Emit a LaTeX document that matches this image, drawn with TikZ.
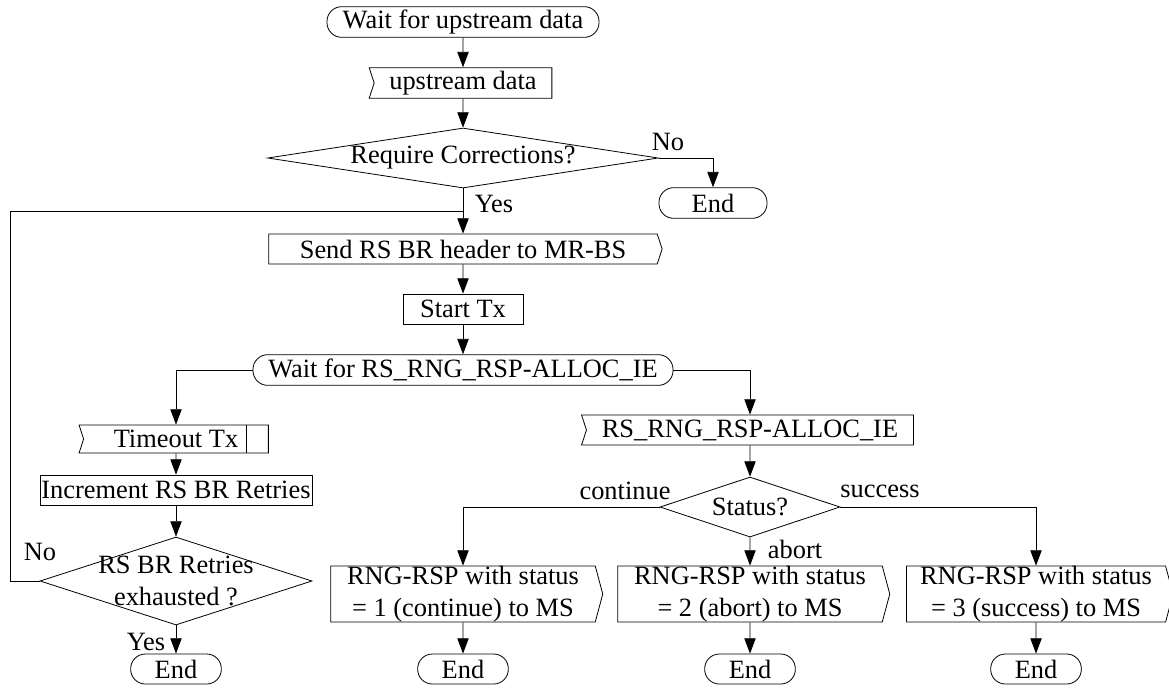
\documentclass[tikz,border=0pt]{standalone}
\usepackage{fontspec}
\setmainfont{Liberation Serif}
\usetikzlibrary{arrows.meta,shapes.geometric,shapes.symbols}

\tikzset{
  term/.style={draw, rectangle, rounded corners=11pt, inner sep=0pt, minimum height=23pt},
  proc/.style={draw, rectangle, inner sep=0pt, minimum height=22.5pt},
  recv/.style={draw, signal, signal from=west, signal to=nowhere, signal pointer angle=144, inner sep=0pt, minimum height=23pt},
  sendsig/.style={draw, signal, signal to=east, signal pointer angle=150, inner sep=0pt, align=center},
  decision/.style={draw, diamond, inner sep=0pt},
  flow/.style={-{Triangle[length=11.5pt,width=8.5pt]}},
}

\begin{document}
\begin{tikzpicture}[x=0.75pt,y=0.75pt,yscale=-1,xscale=1, font=\fontsize{19.8}{24}\selectfont, line width=0.6pt]
\useasboundingbox (0,0) rectangle (1169,687);

%Shape: Terminal [id:waitup]
\node [term, minimum width=204pt] (waitup) at (463,22) {Wait for upstream data};
%Shape: Input [id:updata]
\node [recv, minimum width=137pt] (updata) at (463,83) {upstream data};
%Shape: Decision [id:corr]
\node [decision, minimum width=293pt, minimum height=45pt, label={center:Require Corrections?}] (corr) at (463,158) {};
%Shape: Terminal [id:endno]
\node [term, minimum width=81pt] (endno) at (713,203) {End};
%Shape: Output [id:sendbr]
\node [sendsig, signal pointer angle=144, minimum width=295pt, minimum height=22.5pt] (sendbr) at (463,249) {Send RS BR header to MR-BS};
%Shape: Rectangle [id:starttx]
\node [proc, minimum width=90pt] (starttx) at (463,309) {Start Tx};
%Shape: Terminal [id:waitrsp]
\node [term, minimum width=315pt] (waitrsp) at (463,370) {Wait for RS\_RNG\_RSP-ALLOC\_IE};

% left branch
%Shape: Input [id:timeout]
\node [recv, minimum width=142pt, minimum height=21pt] (timeout) at (176,439) {Timeout Tx\hspace{14pt}};
\draw ([xshift=-16.5pt]timeout.north east) -- ([xshift=-16.5pt]timeout.south east);
%Shape: Rectangle [id:incr]
\node [proc, minimum width=204pt] (incr) at (176,490) {Increment RS BR Retries};
%Shape: Decision [id:retry]
\node [decision, minimum width=204pt, minimum height=66pt, label={[align=center]center:{RS BR Retries\\exhausted ?}}] (retry) at (176,581) {};
%Shape: Terminal [id:endyes]
\node [term, minimum width=68pt, minimum height=22.5pt] (endyes) at (176,669) {End};
\coordinate (loopc) at (10,211);
\coordinate (joinc) at (463,211);

% right branch
%Shape: Input [id:rsprx]
\node [recv, minimum width=249pt, minimum height=22.5pt] (rsprx) at (750,430) {RS\_RNG\_RSP-ALLOC\_IE};
%Shape: Decision [id:status]
\node [decision, minimum width=135pt, minimum height=45pt, label={center:Status?}] (status) at (750,507) {};
%Shape: Output [id:rspcont]
\node [sendsig, minimum width=204pt, minimum height=42pt] (rspcont) at (463,594) {RNG-RSP with status\\= 1 (continue) to MS};
%Shape: Output [id:rspabort]
\node [sendsig, minimum width=204pt, minimum height=42pt] (rspabort) at (750,594) {RNG-RSP with status\\= 2 (abort) to MS};
%Shape: Output [id:rspsucc]
\node [sendsig, minimum width=200pt, minimum height=42pt] (rspsucc) at (1036,594) {RNG-RSP with status\\= 3 (success) to MS};
%Shape: Terminal [id:endcont]
\node [term, minimum width=68pt, minimum height=22.5pt] (endcont) at (463,669) {End};
%Shape: Terminal [id:endabort]
\node [term, minimum width=68pt, minimum height=22.5pt] (endabort) at (750,669) {End};
%Shape: Terminal [id:endsucc]
\node [term, minimum width=68pt, minimum height=22.5pt] (endsucc) at (1036,669) {End};

%Straight Lines
\draw [flow] (waitup) -- (updata);
\draw [flow] (updata) -- (corr);
\draw [flow] (corr.east) -| (endno.north);
\draw [flow] (corr.south) -- (sendbr.north);
\draw [flow] (sendbr) -- (starttx);
\draw [flow] (starttx) -- (waitrsp);
\draw [flow] (waitrsp.west) -| (timeout.north);
\draw [flow] (waitrsp.east) -| (rsprx.north);
\draw [flow] (timeout) -- (incr);
\draw [flow] (incr) -- (retry);
\draw [flow] (retry) -- (endyes);
\draw (retry.west) -| (loopc) -- (joinc);
\draw [flow] (rsprx) -- (status);
\draw [flow] (status.west) -| (rspcont.north);
\draw [flow] (status) -- (rspabort);
\draw [flow] (status.east) -| (rspsucc.north);
\draw [flow] (rspcont) -- (endcont);
\draw [flow] (rspabort) -- (endabort);
\draw [flow] (rspsucc) -- (endsucc);

% Text Node
\node [inner sep=0.75pt] (tno) at (668,142) {No};
% Text Node
\node [inner sep=0.75pt] (tyes) at (494,204) {Yes};
% Text Node
\node [inner sep=0.75pt] (tno2) at (40,552) {No};
% Text Node
\node [inner sep=0.75pt] (tyes2) at (146,642) {Yes};
% Text Node
\node [inner sep=0.75pt] (tcont) at (625,491) {continue};
% Text Node
\node [inner sep=0.75pt] (tsucc) at (880,491) {success};
% Text Node
\node [inner sep=0.75pt] (tabort) at (795,549) {abort};

\end{tikzpicture}
\end{document}
